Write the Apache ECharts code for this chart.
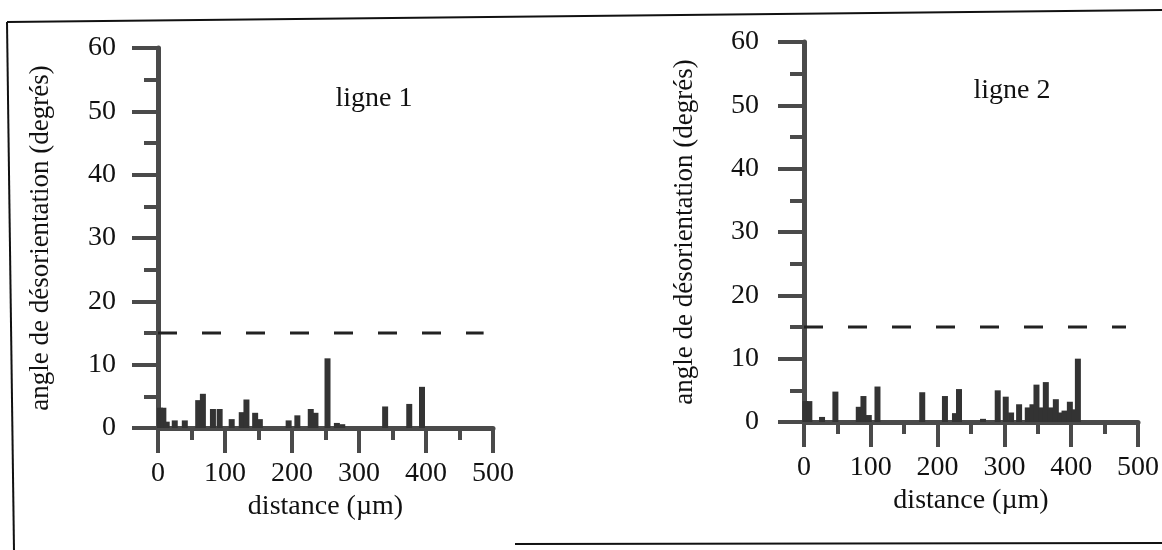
<!DOCTYPE html>
<html><head><meta charset="utf-8">
<script src="https://cdn.jsdelivr.net/npm/echarts@6/dist/echarts.min.js"></script>
<style>html,body{margin:0;padding:0;background:#fff}#c{width:1162px;height:550px}</style>
</head><body><div id="c"></div>
<script>
// ---- data ----
const panelTitles = ['ligne 1', 'ligne 2'];
const yAxisTitle = 'angle de désorientation (degrés)';
const xAxisTitle = 'distance (µm)';
const xTickValues = [0, 100, 200, 300, 400, 500];
const yTickValues = [0, 10, 20, 30, 40, 50, 60];
const threshold = 15;
const thresholdEnd = [486, 482];

const line1Dist = [3, 8, 13, 25, 40, 60, 67, 82, 92, 110, 125, 132, 145, 152, 195, 208, 228, 235, 253, 267, 275, 339, 375, 394];
const line1Angle = [3.2, 3.2, 1.0, 1.2, 1.2, 4.4, 5.4, 3.0, 3.0, 1.4, 2.5, 4.5, 2.4, 1.4, 1.2, 2.0, 3.0, 2.4, 11.0, 0.8, 0.6, 3.4, 3.8, 6.5];

const line2Dist = [2, 8, 27, 47, 82, 89, 97, 110, 177, 211, 226, 232, 268, 290, 302, 310, 322, 335, 342, 348, 355, 362, 369, 377, 384, 390, 398, 405, 410];
const line2Angle = [3.3, 3.3, 0.8, 4.8, 2.4, 4.1, 1.1, 5.6, 4.7, 4.1, 1.4, 5.2, 0.5, 5.0, 4.0, 1.5, 2.8, 2.3, 2.8, 5.9, 2.3, 6.3, 2.3, 3.6, 1.5, 1.8, 3.2, 2.0, 10.0];

// ---- styles ----
const FONT = '"Liberation Serif", "Times New Roman", serif';
const AXIS_COLOR = '#4a4a4a';
const BAR_COLOR = '#333333';
const grids = [
  {left: 158, top: 48, width: 335, height: 380},
  {left: 804, top: 42, width: 334, height: 380}
];
const yLabelMargin = [42, 45];
const yNameGap = [104, 106];
const titlePos = [[374, 99], [1012, 91]];

function pairs(xs, ys) { return xs.map((x, i) => [x, ys[i]]); }

const xAxes = grids.map((g, i) => ({
  gridIndex: i, type: 'value',
  min: xTickValues[0], max: xTickValues[xTickValues.length - 1],
  interval: xTickValues[1] - xTickValues[0],
  name: xAxisTitle, nameLocation: 'middle', nameGap: 64,
  nameTextStyle: {fontFamily: FONT, fontSize: 28, color: '#111'},
  axisLine: {show: true, onZero: true, lineStyle: {color: AXIS_COLOR, width: 5}},
  axisTick: {show: true, length: 25, lineStyle: {color: AXIS_COLOR, width: 4}},
  minorTick: {show: true, splitNumber: 2, length: 12, lineStyle: {color: AXIS_COLOR, width: 4}},
  splitLine: {show: false}, minorSplitLine: {show: false},
  axisLabel: {fontFamily: FONT, fontSize: 28, color: '#111', margin: 32}
}));
const yAxes = grids.map((g, i) => ({
  gridIndex: i, type: 'value',
  min: yTickValues[0], max: yTickValues[yTickValues.length - 1],
  interval: yTickValues[1] - yTickValues[0],
  name: yAxisTitle, nameLocation: 'middle', nameGap: yNameGap[i], nameRotate: 90,
  nameTextStyle: {fontFamily: FONT, fontSize: 27, color: '#111'},
  axisLine: {show: true, lineStyle: {color: AXIS_COLOR, width: 5}},
  axisTick: {show: true, length: 26, lineStyle: {color: AXIS_COLOR, width: 4}},
  minorTick: {show: true, splitNumber: 2, length: 14, lineStyle: {color: AXIS_COLOR, width: 4}},
  splitLine: {show: false}, minorSplitLine: {show: false},
  axisLabel: {fontFamily: FONT, fontSize: 28, color: '#111', margin: yLabelMargin[i]}
}));

const datasets = [pairs(line1Dist, line1Angle), pairs(line2Dist, line2Angle)];
const series = [];
datasets.forEach((d, i) => {
  series.push({
    type: 'bar', xAxisIndex: i, yAxisIndex: i, data: d, barWidth: 6,
    itemStyle: {color: BAR_COLOR}, silent: true, z: 1
  });
  series.push({
    type: 'line', xAxisIndex: i, yAxisIndex: i,
    data: [[0, threshold], [thresholdEnd[i], threshold]],
    symbol: 'none', silent: true, z: 3,
    lineStyle: {color: '#222', width: 3, type: [19, 25]}
  });
});

const graphic = [
  {type: 'line', shape: {x1: 7, y1: 22, x2: 1162, y2: 10}, style: {stroke: '#111', lineWidth: 2}, silent: true},
  {type: 'line', shape: {x1: 7, y1: 22, x2: 14, y2: 550}, style: {stroke: '#111', lineWidth: 2}, silent: true},
  {type: 'line', shape: {x1: 515, y1: 544, x2: 1162, y2: 543}, style: {stroke: '#111', lineWidth: 2}, silent: true}
];
panelTitles.forEach((t, i) => {
  graphic.push({type: 'text', x: titlePos[i][0], y: titlePos[i][1], silent: true,
    style: {text: t, fontFamily: FONT, fontSize: 28, fill: '#111', align: 'center', verticalAlign: 'middle'}});
});

const chart = echarts.init(document.getElementById('c'), null, {renderer: 'canvas'});
chart.setOption({
  animation: false,
  backgroundColor: '#fff',
  grid: grids,
  xAxis: xAxes,
  yAxis: yAxes,
  series: series,
  graphic: graphic
});
</script>
</body></html>
